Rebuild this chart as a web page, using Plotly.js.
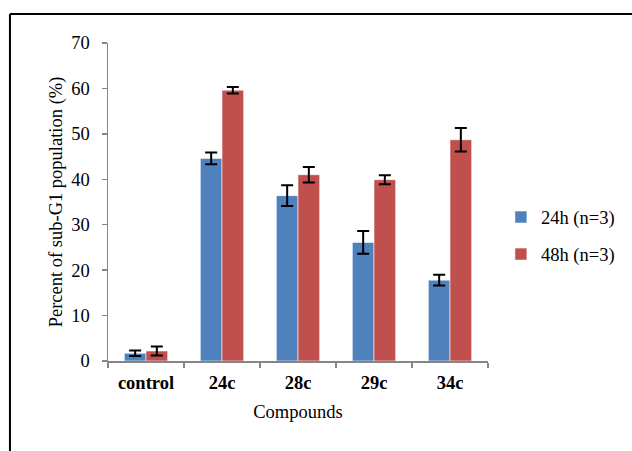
<!DOCTYPE html>
<html>
<head>
<meta charset="utf-8">
<script src="https://cdn.plot.ly/plotly-3.0.1.min.js"></script>
<style>html,body{margin:0;padding:0;background:#fff;}#chart{width:632px;height:451px;}</style>
</head>
<body>
<div id="chart"></div>
<script>
const categories = ["control", "24c", "28c", "29c", "34c"];
const values24h = [1.7, 44.6, 36.4, 26.1, 17.8];
const errors24h = [0.6, 1.3, 2.3, 2.5, 1.2];
const values48h = [2.2, 59.6, 41.0, 39.9, 48.7];
const errors48h = [1.0, 0.7, 1.7, 1.0, 2.6];
const seriesNames = ["24h (n=3)", "48h (n=3)"];
const yTicks = [0, 10, 20, 30, 40, 50, 60, 70];

const serif = "Liberation Serif, Times New Roman, serif";
const fs = 18.5;

const traces = [
  {
    type: "bar", name: seriesNames[0], x: categories, y: values24h, legendgroup: "a",
    marker: {color: "#4F81BD", line: {color: "rgba(255,255,255,0.55)", width: 1}},
    error_y: {type: "data", array: errors24h, visible: true, color: "#000", thickness: 2, width: 6}
  },
  {
    type: "bar", name: seriesNames[1], x: categories, y: values48h, legendgroup: "b",
    marker: {color: "#C0504D", line: {color: "rgba(255,255,255,0.55)", width: 1}},
    error_y: {type: "data", array: errors48h, visible: true, color: "#000", thickness: 2, width: 6}
  }
];

const layout = {
  width: 632, height: 451,
  margin: {l: 108, r: 144, t: 43, b: 90},
  paper_bgcolor: "#fff", plot_bgcolor: "#fff",
  font: {family: serif, size: fs, color: "#000"},
  barmode: "group", bargap: 0.43, bargroupgap: 0,
  showlegend: true,
  legend: {x: 1.034, xanchor: "left", y: 0.393, yanchor: "middle",
           font: {family: serif, size: fs, color: "#000"}, tracegroupgap: 10,
           bgcolor: "rgba(0,0,0,0)"},
  xaxis: {
    type: "category", showgrid: false, zeroline: false,
    showline: true, linecolor: "#868686", linewidth: 1.5,
    ticks: "outside", tickson: "boundaries", ticklen: 5, tickcolor: "#868686", tickwidth: 1.5,
    tickfont: {family: serif, size: fs, color: "#000", weight: "bold"},
    ticklabelstandoff: 4,
    title: {text: "Compounds", font: {family: serif, size: fs, color: "#000"}, standoff: 13}
  },
  yaxis: {
    range: [0, 70], tickvals: yTicks, showgrid: false, zeroline: false,
    showline: true, linecolor: "#868686", linewidth: 1.5,
    ticks: "outside", ticklen: 5, tickcolor: "#868686", tickwidth: 1.5,
    tickfont: {family: serif, size: fs, color: "#000"},
    ticklabelstandoff: 8,
    title: {text: "Percent of sub-G1 population (%)", font: {family: serif, size: fs, color: "#000"}, standoff: 4}
  },
  shapes: [
    {type: "line", xref: "paper", yref: "paper", x0: -0.258, x1: 1.4, y0: 1.0912, y1: 1.0912, line: {color: "#000", width: 2}},
    {type: "line", xref: "paper", yref: "paper", x0: -0.258, x1: -0.258, y0: 1.0912, y1: -0.3, line: {color: "#000", width: 2}}
  ]
};

Plotly.newPlot("chart", traces, layout, {displayModeBar: false, staticPlot: true});
</script>
</body>
</html>
